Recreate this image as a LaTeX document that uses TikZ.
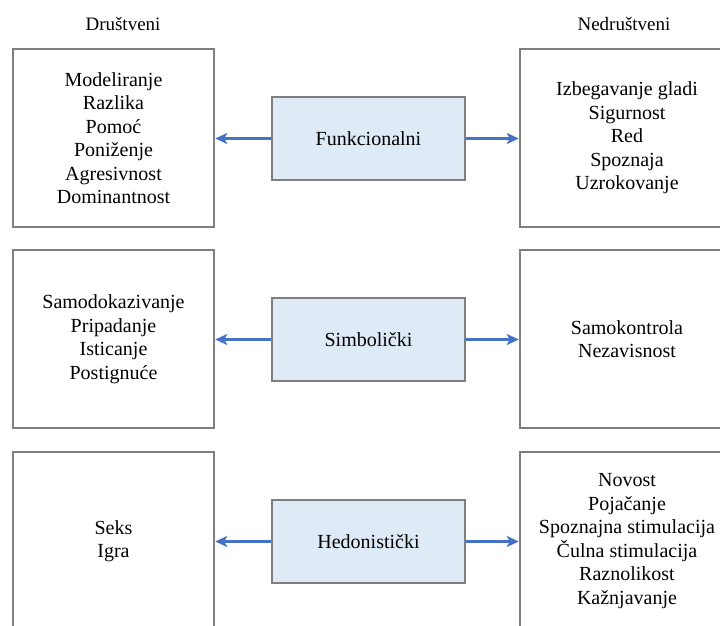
\documentclass[tikz,border=0pt]{standalone}
\usepackage{fontspec}
\setmainfont{LiberationSerif}[Extension=.ttf, UprightFont=*-Regular]
\usetikzlibrary{arrows.meta}
\definecolor{framegray}{HTML}{7F7F7F}
\definecolor{catfill}{HTML}{DEEBF7}
\definecolor{linkblue}{HTML}{4472C4}
\begin{document}
\begin{tikzpicture}[x=1pt,y=-1pt,
  outerbox/.style={draw=framegray, line width=2.5pt, minimum height=178pt,
    align=center, inner sep=0pt, font=\fontsize{20}{23.5}\selectfont},
  leftbox/.style={outerbox, minimum width=201pt},
  rightbox/.style={outerbox, minimum width=214pt},
  catbox/.style={draw=framegray, fill=catfill, line width=2.5pt,
    minimum width=193pt, minimum height=83pt, inner sep=0pt,
    font=\fontsize{20}{24}\selectfont},
  link/.style={draw=linkblue, line width=2.5pt,
    -{Stealth[length=12pt,width=11pt,inset=3pt]}},
  header/.style={font=\fontsize{19}{23}\selectfont}]
\useasboundingbox (0,0) rectangle (720,625);
\clip (0,0) rectangle (720,625);

% column headers
\node[header] (hl) at (123,24) {Društveni};
\node[header] (hr) at (624,24) {Nedruštveni};

% functional row
\node[leftbox] (fl) at (113.5,138) {Modeliranje\\Razlika\\Pomoć\\Poniženje\\Agresivnost\\Dominantnost};
\node[catbox] (f) at (368.5,138.5) {Funkcionalni};
\node[rightbox] (fr) at (627,138) {Izbegavanje gladi\\Sigurnost\\Red\\Spoznaja\\Uzrokovanje};

% symbolic row
\node[leftbox] (sl) at (113.5,339) {Samodokazivanje\\Pripadanje\\Isticanje\\Postignuće};
\node[catbox] (s) at (368.5,339.5) {Simbolički};
\node[rightbox] (sr) at (627,339) {Samokontrola\\Nezavisnost};

% hedonistic row
\node[leftbox] (hl2) at (113.5,541) {Seks\\Igra};
\node[catbox] (h) at (368.5,541.5) {Hedonistički};
\node[rightbox] (hr2) at (627,541) {Novost\\Pojačanje\\Spoznajna stimulacija\\Čulna stimulacija\\Raznolikost\\Kažnjavanje};

% connectors
\draw[link] (f.west) -- (f.west -| fl.east);
\draw[link] (f.east) -- (f.east -| fr.west);
\draw[link] (s.west) -- (s.west -| sl.east);
\draw[link] (s.east) -- (s.east -| sr.west);
\draw[link] (h.west) -- (h.west -| hl2.east);
\draw[link] (h.east) -- (h.east -| hr2.west);
\end{tikzpicture}
\end{document}
